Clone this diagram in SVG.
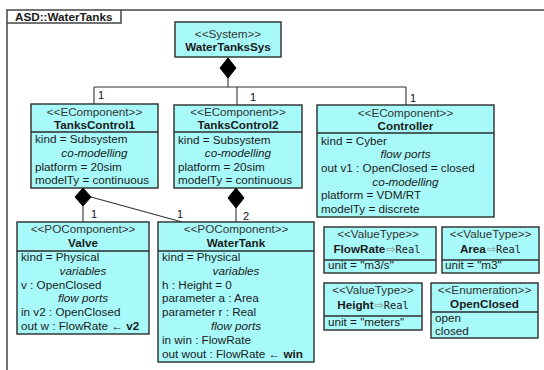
<svg xmlns="http://www.w3.org/2000/svg" width="544" height="370" viewBox="0 0 544 370">
  <style>
    .box { fill: #a8fafa; stroke: #2b2b2b; stroke-width: 1.4; }
    .div { stroke: #2b2b2b; stroke-width: 1.4; }
    .frame { fill: none; stroke: #444; stroke-width: 1.5; }
    .conn { fill: none; stroke: #333; stroke-width: 1.1; }
    .dia { fill: #000; stroke: #000; stroke-width: 1; }
    text { font-family: "Liberation Sans", Arial, sans-serif; font-size: 11.7px; fill: #1a1a1a; }
    .st { text-anchor: middle; fill: #333; }
    .nm { text-anchor: middle; font-weight: bold; }
    .it { text-anchor: middle; font-style: italic; }
    .b { font-weight: bold; }
    .mono { font-family: "DejaVu Sans Mono", "Liberation Mono", monospace; font-size: 10.4px; }
    .gen { fill: #8a8a8a; font-family: "DejaVu Sans", sans-serif; font-size: 11px; }
    .mul { font-size: 11px; fill: #111; }
  </style>

  <!-- package frame -->
  <g id="frame">
    <path class="frame" d="M7,372 L7,10 L546,10"/>
    <path class="frame" d="M7,23 L121,23 L121,10"/>
    <text x="15" y="20.5" class="b">ASD::WaterTanks</text>
  </g>

  <!-- composition connectors -->
  <g id="connectors">
    <polygon class="dia" points="228,58 236,68 228,78 220,68"/>
    <path class="conn" d="M228,78 V87 M94,87 H406 M94,87 V104 M237,87 V105 M406,87 V105"/>
    <text x="98" y="99" class="mul">1</text>
    <text x="250" y="101" class="mul">1</text>
    <text x="410" y="102" class="mul">1</text>

    <polygon class="dia" points="83,188 91,197 83,206 75,197"/>
    <path class="conn" d="M83,206 V222 M91,197 L182,222"/>
    <polygon class="dia" points="236,188 244,198 236,208 228,198"/>
    <path class="conn" d="M236,208 V222"/>
    <text x="91" y="218" class="mul">1</text>
    <text x="177" y="218" class="mul">1</text>
    <text x="243" y="220" class="mul">2</text>
  </g>

  <g id="WaterTanksSys">
    <rect class="box" x="175" y="22" width="106" height="35"/>
    <text x="228" y="37.5" class="st">&lt;&lt;System&gt;&gt;</text>
    <text x="228" y="51" class="nm">WaterTanksSys</text>
  </g>

  <g id="TanksControl1">
    <rect class="box" x="31" y="104" width="127" height="84"/>
    <line class="div" x1="31" y1="132" x2="158" y2="132"/>
    <text x="94.5" y="115.5" class="st">&lt;&lt;EComponent&gt;&gt;</text>
    <text x="94.5" y="128.5" class="nm">TanksControl1</text>
    <text x="35" y="143">kind = Subsystem</text>
    <text x="94.5" y="156.5" class="it">co-modelling</text>
    <text x="35" y="170.5">platform = 20sim</text>
    <text x="35" y="184">modelTy = continuous</text>
  </g>

  <g id="TanksControl2">
    <rect class="box" x="174" y="105" width="128" height="83"/>
    <line class="div" x1="174" y1="132" x2="302" y2="132"/>
    <text x="238" y="116" class="st">&lt;&lt;EComponent&gt;&gt;</text>
    <text x="238" y="129" class="nm">TanksControl2</text>
    <text x="178" y="143.5">kind = Subsystem</text>
    <text x="238" y="157" class="it">co-modelling</text>
    <text x="178" y="170.5">platform = 20sim</text>
    <text x="178" y="184">modelTy = continuous</text>
  </g>

  <g id="Controller">
    <rect class="box" x="317" y="105" width="177" height="112"/>
    <line class="div" x1="317" y1="133" x2="494" y2="133"/>
    <text x="405.5" y="116.5" class="st">&lt;&lt;EComponent&gt;&gt;</text>
    <text x="405.5" y="130" class="nm">Controller</text>
    <text x="321" y="145">kind = Cyber</text>
    <text x="405.5" y="158" class="it">flow ports</text>
    <text x="321" y="172">out v1 : OpenClosed = closed</text>
    <text x="405.5" y="185.5" class="it">co-modelling</text>
    <text x="321" y="199">platform = VDM/RT</text>
    <text x="321" y="212.5">modelTy = discrete</text>
  </g>

  <g id="Valve">
    <rect class="box" x="17" y="222" width="132" height="112"/>
    <line class="div" x1="17" y1="251" x2="149" y2="251"/>
    <text x="83" y="233" class="st">&lt;&lt;POComponent&gt;&gt;</text>
    <text x="83" y="246.5" class="nm">Valve</text>
    <text x="21" y="261">kind = Physical</text>
    <text x="83" y="274.8" class="it">variables</text>
    <text x="21" y="288.6">v : OpenClosed</text>
    <text x="83" y="302.4" class="it">flow ports</text>
    <text x="21" y="316.2">in v2 : OpenClosed</text>
    <text x="21" y="330">out w : FlowRate ← <tspan class="b">v2</tspan></text>
  </g>

  <g id="WaterTank">
    <rect class="box" x="158" y="222" width="156" height="140"/>
    <line class="div" x1="158" y1="251" x2="314" y2="251"/>
    <text x="236" y="233" class="st">&lt;&lt;POComponent&gt;&gt;</text>
    <text x="236" y="246.5" class="nm">WaterTank</text>
    <text x="162" y="261">kind = Physical</text>
    <text x="236" y="274.8" class="it">variables</text>
    <text x="162" y="288.6">h : Height = 0</text>
    <text x="162" y="302.4">parameter a : Area</text>
    <text x="162" y="316.2">parameter r : Real</text>
    <text x="236" y="330" class="it">flow ports</text>
    <text x="162" y="343.8">in win : FlowRate</text>
    <text x="162" y="357.6">out wout : FlowRate ← <tspan class="b">win</tspan></text>
  </g>

  <g id="FlowRate">
    <rect class="box" x="324" y="227" width="112" height="46"/>
    <line class="div" x1="324" y1="260" x2="436" y2="260"/>
    <text x="378" y="238" class="st">&lt;&lt;ValueType&gt;&gt;</text>
    <text x="377" y="252.5" text-anchor="middle"><tspan class="b">FlowRate</tspan><tspan class="gen" dx="1">⇨</tspan><tspan class="mono">Real</tspan></text>
    <text x="328" y="269">unit = "m3/s"</text>
  </g>

  <g id="Area">
    <rect class="box" x="442" y="227" width="97" height="46"/>
    <line class="div" x1="442" y1="260" x2="539" y2="260"/>
    <text x="490.5" y="238" class="st">&lt;&lt;ValueType&gt;&gt;</text>
    <text x="490.5" y="252.5" text-anchor="middle"><tspan class="b">Area</tspan><tspan class="gen" dx="1">⇨</tspan><tspan class="mono">Real</tspan></text>
    <text x="445" y="269">unit = "m3"</text>
  </g>

  <g id="Height">
    <rect class="box" x="324" y="283" width="98" height="47"/>
    <line class="div" x1="324" y1="316" x2="422" y2="316"/>
    <text x="373" y="294" class="st">&lt;&lt;ValueType&gt;&gt;</text>
    <text x="373" y="308.5" text-anchor="middle"><tspan class="b">Height</tspan><tspan class="gen" dx="1">⇨</tspan><tspan class="mono">Real</tspan></text>
    <text x="328" y="326">unit = "meters"</text>
  </g>

  <g id="OpenClosed">
    <rect class="box" x="431" y="283" width="107" height="55"/>
    <line class="div" x1="431" y1="312" x2="538" y2="312"/>
    <text x="484.5" y="294" class="st">&lt;&lt;Enumeration&gt;&gt;</text>
    <text x="484.5" y="307.5" class="nm">OpenClosed</text>
    <text x="435" y="322">open</text>
    <text x="435" y="335">closed</text>
  </g>
</svg>
